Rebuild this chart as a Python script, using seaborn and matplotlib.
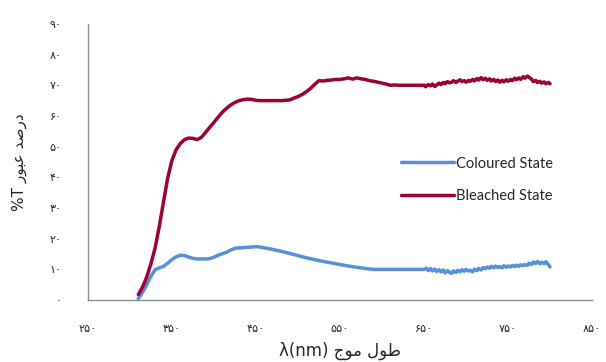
import pandas as pd
import matplotlib.pyplot as plt
import seaborn as sns

# Bleached State (red)
red_nm = [310, 315, 320, 325, 330, 335, 340, 345, 350, 355, 360, 365, 370, 375, 380, 385, 390, 395,
          400, 405, 410, 415, 420, 425, 430, 435, 440, 445, 450, 455, 460, 470, 480, 490, 495, 500,
          505, 510, 515, 520, 525, 530, 535, 540, 545, 550, 555, 560, 565, 570, 575, 580, 585, 590,
          595, 600, 605, 610, 615, 620, 630, 640, 650, 652, 655, 658, 660, 663, 665, 668, 670, 673,
          675, 678, 680, 683, 685, 688, 690, 693, 695, 698, 700, 703, 705, 708, 710, 713, 715, 718,
          720, 723, 725, 728, 730, 733, 735, 738, 740, 743, 745, 748, 750, 753, 755, 758, 760, 763,
          765, 768, 770, 773, 775, 778, 780, 783, 785, 788, 790, 793, 795, 798, 800]
red_T = [1.8, 4.2, 7.5, 11.8, 17.0, 24.0, 32.0, 39.8, 45.5, 49.0, 51.0, 52.3, 52.8, 52.7, 52.3, 53.0, 54.6, 56.3,
         57.9, 59.6, 61.2, 62.5, 63.6, 64.4, 65.0, 65.3, 65.5, 65.4, 65.1, 65.0, 65.0, 65.0, 65.0, 65.2, 65.8, 66.3,
         67.0, 67.9, 69.0, 70.3, 71.5, 71.4, 71.6, 71.7, 71.9, 71.9, 72.1, 72.4, 72.0, 72.4, 72.1, 71.9, 71.5, 71.3,
         71.0, 70.7, 70.4, 70.0, 70.1, 70.0, 70.0, 70.0, 70.0, 69.5, 70.2, 69.8, 70.4, 69.6, 70.1, 70.7, 70.2, 70.9,
         70.5, 71.2, 70.8, 71.0, 71.5, 70.9, 71.3, 71.8, 71.2, 71.5, 71.0, 71.6, 71.3, 71.9, 71.4, 72.2, 71.7, 72.5,
         71.8, 72.3, 71.6, 72.1, 71.4, 71.9, 71.2, 71.7, 71.0, 71.6, 71.1, 71.8, 71.3, 71.9, 71.5, 72.3, 71.8, 72.4,
         71.9, 72.8, 72.3, 73.0, 72.6, 72.0, 71.2, 71.6, 70.9, 71.3, 70.7, 71.1, 70.5, 70.9, 70.5]

# Coloured State (blue)
blue_nm = [310, 315, 320, 325, 330, 335, 340, 345, 350, 355, 360, 365, 370, 375, 380, 385, 390, 395,
           400, 405, 410, 415, 420, 425, 430, 440, 450, 455, 460, 465, 470, 480, 490, 500, 510, 520,
           530, 540, 550, 560, 570, 580, 590, 600, 620, 640, 650, 653, 655, 658, 660, 663, 665, 668,
           670, 673, 675, 678, 680, 683, 685, 688, 690, 693, 695, 698, 700, 703, 705, 708, 710, 713,
           715, 718, 720, 723, 725, 728, 730, 733, 735, 738, 740, 743, 745, 748, 750, 753, 755, 758,
           760, 763, 765, 768, 770, 773, 775, 778, 780, 783, 785, 788, 790, 793, 795, 798, 800]
blue_T = [0.5, 2.5, 5.0, 7.8, 9.9, 10.5, 11.0, 12.0, 13.2, 14.1, 14.6, 14.5, 14.0, 13.6, 13.4, 13.4, 13.4, 13.5,
          14.0, 14.6, 15.1, 15.6, 16.3, 16.9, 17.0, 17.2, 17.4, 17.3, 17.0, 16.8, 16.5, 15.9, 15.2, 14.5, 13.8, 13.2,
          12.6, 12.1, 11.6, 11.1, 10.7, 10.3, 10.0, 10.0, 10.0, 10.0, 10.0, 10.4, 9.6, 10.3, 9.5, 10.1, 9.3, 9.9,
          9.2, 9.8, 8.9, 9.6, 9.1, 8.7, 9.5, 9.0, 9.7, 9.2, 9.9, 9.4, 10.0, 9.5, 9.7, 9.2, 10.1, 9.6,
          10.3, 9.8, 10.6, 10.2, 10.8, 10.4, 11.0, 10.5, 11.1, 10.6, 10.9, 10.5, 11.2, 10.7, 11.1, 10.8, 11.3, 10.9,
          11.4, 11.0, 11.5, 11.2, 11.6, 11.3, 12.0, 11.6, 12.4, 11.9, 12.6, 11.8, 12.3, 11.9, 12.5, 11.6, 10.8]

x_ticks = [250, 350, 450, 550, 650, 750, 850]
x_tick_labels = ['۲۵۰', '۳۵۰', '۴۵۰', '۵۵۰', '۶۵۰', '۷۵۰', '۸۵۰']
y_ticks = [0, 10, 20, 30, 40, 50, 60, 70, 80, 90]
y_tick_labels = ['۰', '۱۰', '۲۰', '۳۰', '۴۰', '۵۰', '۶۰', '۷۰', '۸۰', '۹۰']

# arabic text written in presentation forms, visual order (matplotlib does no shaping)
x_label = 'λ(nm) \ufe9d\ufeee\ufee3 \ufedd\ufeee\ufec3'
y_label = '%T \ufead\ufeee\ufe92\ufecb \ufeaa\ufebb\ufead\ufea9'

df = pd.concat([
    pd.DataFrame({'nm': blue_nm, 'T': blue_T, 'state': 'Coloured State'}),
    pd.DataFrame({'nm': red_nm, 'T': red_T, 'state': 'Bleached State'}),
])

sns.set_style('white')
plt.rcParams['font.family'] = ['DejaVu Sans']

fig = plt.figure(figsize=(6.06, 3.62), dpi=100)
ax = fig.add_axes([0.145, 0.171, 0.832, 0.763])

sns.lineplot(data=df, x='nm', y='T', hue='state', estimator=None,
             palette={'Coloured State': '#5690D8', 'Bleached State': '#9B0036'},
             linewidth=2.5, ax=ax)

ax.set_xlim(250, 850)
ax.set_ylim(0, 90)
ax.set_xticks(x_ticks)
ax.set_xticklabels(x_tick_labels)
ax.set_yticks(y_ticks)
ax.set_yticklabels(y_tick_labels)
ax.tick_params(direction='out', length=6, width=1, color='#8c8c8c', labelsize=8, pad=13)
ax.tick_params(axis='x', pad=11)
sns.despine(ax=ax)
for s in ['left', 'bottom']:
    ax.spines[s].set_color('#8c8c8c')
    ax.spines[s].set_linewidth(1)

ax.set_xlabel(x_label, fontsize=12, labelpad=6)
ax.set_ylabel(y_label, fontsize=11, labelpad=16)

h, l = ax.get_legend_handles_labels()
ax.legend(h, l, loc='center left', bbox_to_anchor=(388 / 606, 1 - 180 / 362),
          bbox_transform=fig.transFigure, frameon=False,
          prop={'family': 'Lato', 'size': 10.5},
          handlelength=3.6, handletextpad=0.15, labelspacing=1.3)

fig.savefig('out.png', dpi=100)
